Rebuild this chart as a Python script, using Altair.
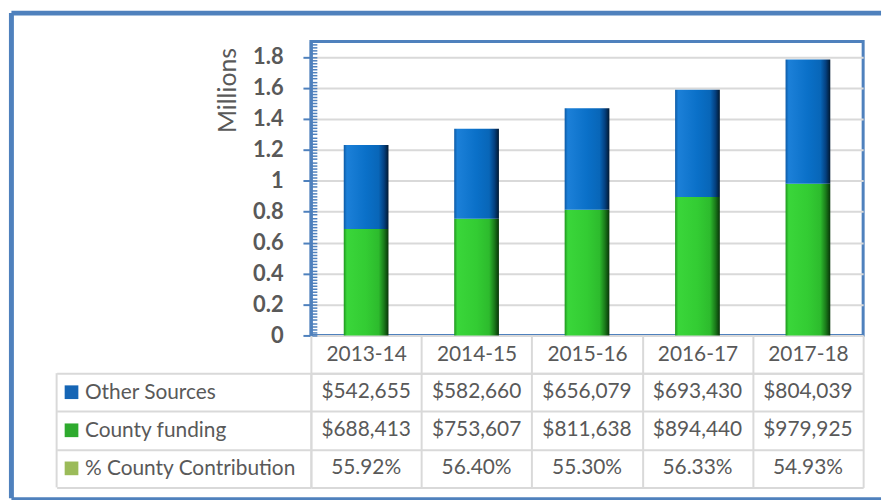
import altair as alt
import pandas as pd

# ---------------- data ----------------
years = ["2013-14", "2014-15", "2015-16", "2016-17", "2017-18"]
other_sources = [542655, 582660, 656079, 693430, 804039]
county_funding = [688413, 753607, 811638, 894440, 979925]
county_pct = [55.92, 56.40, 55.30, 56.33, 54.93]
row_names = ["Other Sources", "County funding", "% County Contribution"]
major_ticks = [0, 0.2, 0.4, 0.6, 0.8, 1.0, 1.2, 1.4, 1.6, 1.8]

# ---------------- styles ----------------
TEXT = "#595959"
FRAME = "#4F81BD"
GRID = "#D9D9D9"
FONT = "Lato"
minor_ticks = [round(i * 0.02, 2) for i in range(96)]

bars_df = pd.DataFrame({"year": years, "other": other_sources, "county": county_funding})

rows = []
for i, y in enumerate(years):
    rows.append({"row": row_names[0], "year": y, "label": f"${other_sources[i]:,}"})
    rows.append({"row": row_names[1], "year": y, "label": f"${county_funding[i]:,}"})
    rows.append({"row": row_names[2], "year": y, "label": f"{county_pct[i]:.2f}%"})
table_df = pd.DataFrame(rows)
swatch_df = pd.DataFrame({"row": row_names})
dummy = pd.DataFrame({"a": [0]})

blue_grad = alt.Gradient(
    gradient="linear", x1=0, x2=1, y1=0, y2=0,
    stops=[
        alt.GradientStop(color="#0D5AA5", offset=0),
        alt.GradientStop(color="#1C80D8", offset=0.07),
        alt.GradientStop(color="#0A70C8", offset=0.5),
        alt.GradientStop(color="#0866B8", offset=0.78),
        alt.GradientStop(color="#044080", offset=0.9),
        alt.GradientStop(color="#011830", offset=1),
    ],
)
green_grad = alt.Gradient(
    gradient="linear", x1=0, x2=1, y1=0, y2=0,
    stops=[
        alt.GradientStop(color="#1E961E", offset=0),
        alt.GradientStop(color="#3AD63A", offset=0.07),
        alt.GradientStop(color="#33CC33", offset=0.5),
        alt.GradientStop(color="#2DBB2D", offset=0.78),
        alt.GradientStop(color="#1A7A1A", offset=0.9),
        alt.GradientStop(color="#083408", offset=1),
    ],
)

x_bar = alt.X("year:N", sort=years,
              scale=alt.Scale(paddingInner=0.595, paddingOuter=0.2975), axis=None)
y_scale = alt.Scale(domain=[0, 1.9], nice=False, zero=True)

main_axis = alt.Axis(
    values=major_ticks, format=".1~f",
    labelFont=FONT, labelFontSize=22, labelFontWeight="bold", labelColor=TEXT,
    labelPadding=20, tickSize=8, tickColor=FRAME, tickWidth=2,
    domainColor=FRAME, domainWidth=3,
    grid=True, gridColor=GRID, gridWidth=2,
    title="Millions", titleFont=FONT, titleFontSize=25, titleFontWeight="normal",
    titleColor=TEXT, titleAnchor="end", titlePadding=12, titleY=6,
)
minor_axis = alt.Axis(
    orient="left", values=minor_ticks, labels=False, domain=False, grid=False,
    tickSize=6, tickColor=FRAME, tickWidth=1.5, offset=-6, title=None,
)

green = alt.Chart(bars_df).transform_calculate(
    c="datum.county / 1000000"
).mark_bar(color=green_grad).encode(
    x=x_bar,
    y=alt.Y("c:Q", scale=y_scale, stack=None, axis=main_axis),
)
blue = alt.Chart(bars_df).transform_calculate(
    c0="datum.county / 1000000", c1="(datum.county + datum.other) / 1000000"
).mark_bar(color=blue_grad).encode(
    x=x_bar,
    y=alt.Y("c0:Q", scale=y_scale, axis=minor_axis),
    y2="c1:Q",
)

frame_left = alt.Chart(dummy).mark_rule(color=FRAME, strokeWidth=5).encode(
    x=alt.value(-301.5), y=alt.value(-28.5), y2=alt.value(460))
frame_top = alt.Chart(dummy).mark_rule(color=FRAME, strokeWidth=5).encode(
    y=alt.value(-28.5), x=alt.value(-301.5), x2=alt.value(574))
frame_bottom = alt.Chart(dummy).mark_rule(color=FRAME, strokeWidth=3).encode(
    y=alt.value(460.5), x=alt.value(-301.5), x2=alt.value(574))

top = alt.layer(
    frame_left, frame_top, frame_bottom, green, blue,
).resolve_axis(y="independent").properties(
    width=556, height=296,
    view=alt.ViewBackground(stroke=FRAME, strokeWidth=3),
)

# ---------------- table ----------------
x_tab = alt.X(
    "year:N", sort=years, scale=alt.Scale(paddingInner=0, paddingOuter=0),
    axis=alt.Axis(
        orient="top", title=None, labelFont=FONT, labelFontSize=21, labelColor=TEXT,
        labelAngle=0, labelBaseline="middle", labelPadding=-19,
        tickSize=38, tickBand="extent", tickColor=GRID, tickWidth=2,
        domainColor=GRID, domainWidth=2, grid=True, gridColor=GRID, gridWidth=2,
    ),
)
y_tab = alt.Y(
    "row:N", sort=row_names, scale=alt.Scale(paddingInner=0, paddingOuter=0),
    axis=alt.Axis(
        title=None, labelFont=FONT, labelFontSize=21, labelColor=TEXT,
        labelAlign="left", labelPadding=-28, labelLimit=300,
        tickSize=256, tickBand="extent", tickColor=GRID, tickWidth=2,
        domainColor=GRID, domainWidth=2, grid=True, gridColor=GRID, gridWidth=2,
    ),
)

cells = alt.Chart(table_df).mark_text(font=FONT, fontSize=21, color=TEXT).encode(
    x=x_tab, y=y_tab, text="label:N")
swatches = alt.Chart(swatch_df).mark_point(
    shape="square", filled=True, size=190, opacity=1
).encode(
    y=alt.Y("row:N", sort=row_names),
    x=alt.value(-241),
    color=alt.Color("row:N", scale=alt.Scale(domain=row_names,
                    range=["#1565B5", "#2EAA2E", "#9BBB59"]), legend=None),
)
left_border = alt.Chart(dummy).mark_rule(color=GRID, strokeWidth=2).encode(
    x=alt.value(-256), y=alt.value(0), y2=alt.value(115))

table = alt.layer(cells, swatches, left_border).properties(
    width=556, height=115,
    view=alt.ViewBackground(stroke="transparent"),
)

chart = alt.vconcat(top, table, spacing=38, bounds="flush").properties(
    padding={"left": 7, "top": 7, "right": 0, "bottom": 0},
    background="white",
)

chart.save("out.html", embed_options={"renderer": "svg", "actions": False})
